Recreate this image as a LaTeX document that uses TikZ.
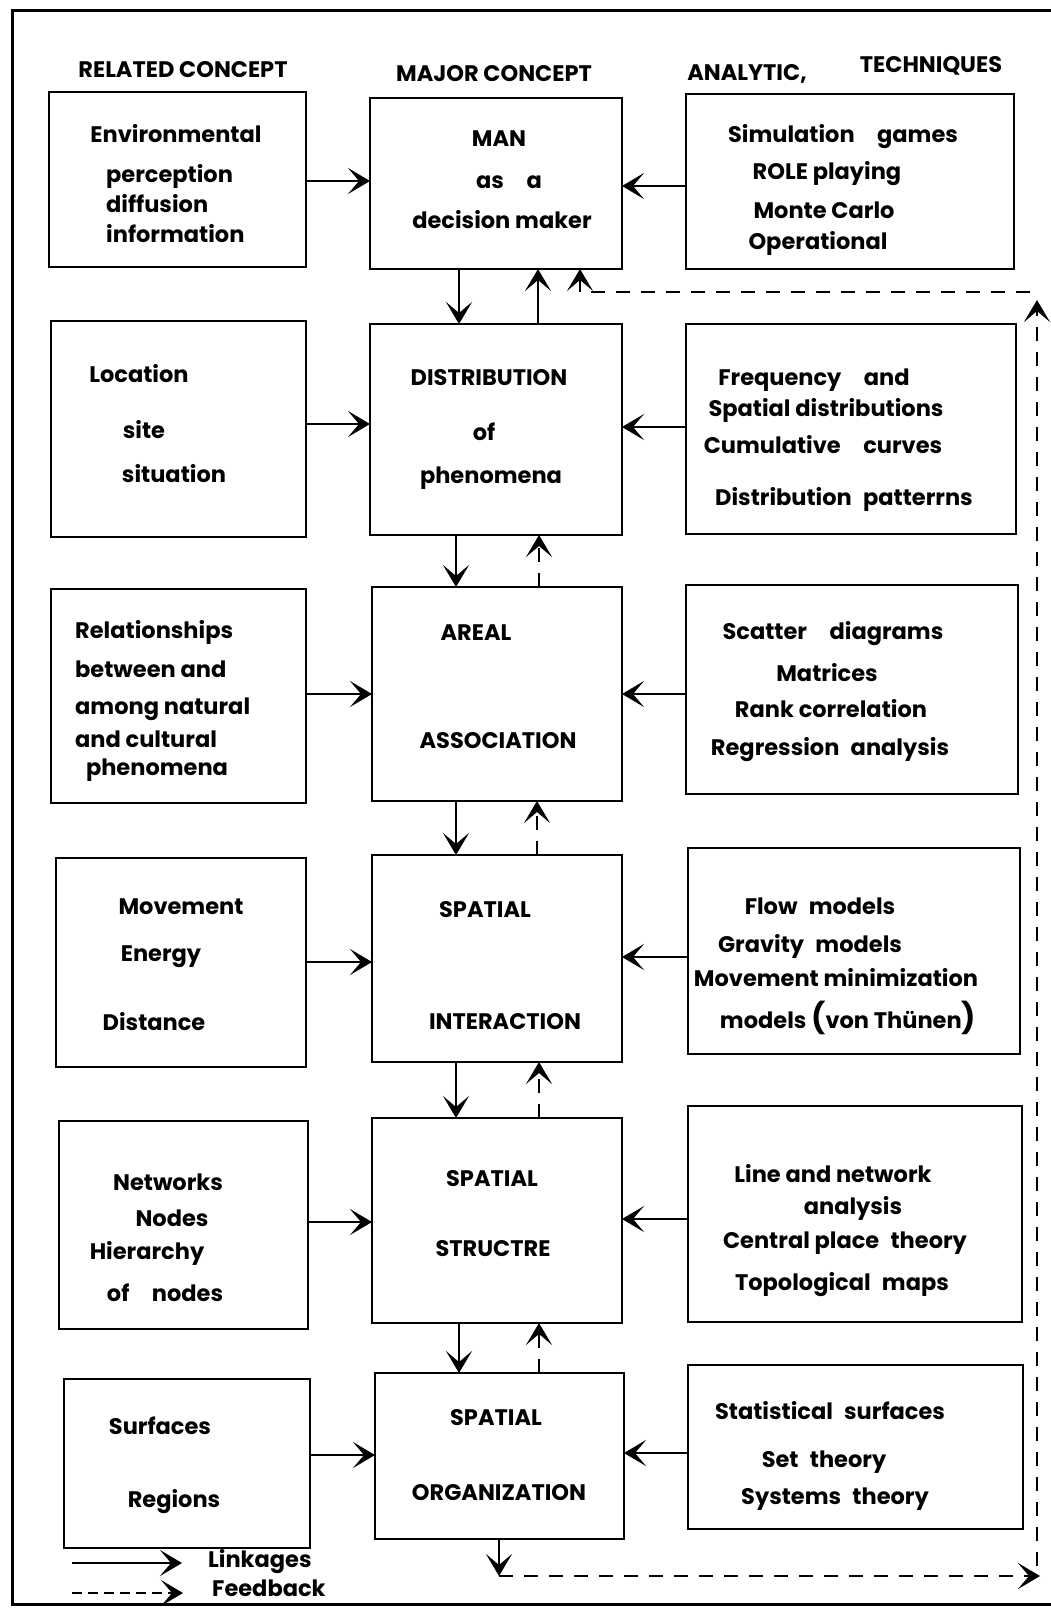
\documentclass[tikz,border=0pt]{standalone}
\usepackage{fontspec}
\setmainfont{Poppins}
\usetikzlibrary{arrows.meta}

% box given by its top-left and bottom-right corners (y grows downward)
\newcommand\cbox[5]{%
  \node[box, anchor=north west, minimum width={(#4-#2)*1pt}, minimum height={(#5-#3)*1pt}] (#1) at (#2,#3) {};}

\begin{document}
\begin{tikzpicture}[x=1pt,y=-1pt,
  box/.style={draw, line width=2.6pt, inner sep=0pt, outer sep=0pt},
  lbl/.style={font=\fontsize{22.5}{26}\selectfont\bfseries, inner sep=0pt},
  link/.style={line width=2.2pt, -{Stealth[length=22pt,width=26pt,inset=11pt]}},
  fb/.style={link, dash pattern=on 14pt off 11pt}]

\useasboundingbox (0,0) rectangle (1051,1609);
\fill[white] (0,0) rectangle (1051,1609);

% outer frame
\draw[line width=3pt] (1051,10) -- (12,10) -- (12,1604) -- (1051,1604);

% column headings
\node[lbl] (hRel) at (183,70) {RELATED CONCEPT};
\node[lbl] (hMaj) at (494,74) {MAJOR CONCEPT};
\node[lbl] (hAna) at (747,74) {ANALYTIC,};
\node[lbl] (hTec) at (931,66) {TECHNIQUES};

% boxes
\cbox{L1}{49}{92}{306}{267}
\cbox{M1}{370}{98}{622}{269}
\cbox{R1}{686}{94}{1014}{269}
\cbox{L2}{51}{321}{306}{537}
\cbox{M2}{370}{324}{622}{535}
\cbox{R2}{686}{324}{1016}{534}
\cbox{L3}{51}{589}{306}{803}
\cbox{M3}{372}{587}{622}{801}
\cbox{R3}{686}{585}{1018}{794}
\cbox{L4}{56}{858}{306}{1067}
\cbox{M4}{372}{855}{622}{1062}
\cbox{R4}{688}{848}{1020}{1054}
\cbox{L5}{59}{1121}{308}{1329}
\cbox{M5}{372}{1118}{622}{1323}
\cbox{R5}{688}{1106}{1022}{1322}
\cbox{L6}{64}{1379}{310}{1548}
\cbox{M6}{375}{1373}{624}{1539}
\cbox{R6}{688}{1365}{1023}{1529}

% row 1
\node[lbl] (t11) at (176,134) {Environmental};
\node[lbl, anchor=west] (t12) at (106,176) {perception};
\node[lbl, anchor=west] (t13) at (106,204) {diffusion};
\node[lbl, anchor=west] (t14) at (106,234) {information};
\node[lbl] (t15) at (499,139) {MAN};
\node[lbl] (t16) at (509,182) {as\quad a};
\node[lbl] (t17) at (502,220) {decision maker};
\node[lbl] (t18) at (843,137) {Simulation\quad games};
\node[lbl] (t19) at (827,174) {ROLE playing};
\node[lbl] (t1a) at (824,210) {Monte Carlo};
\node[lbl] (t1b) at (818,243) {Operational};

% row 2
\node[lbl] (t21) at (139,374) {Location};
\node[lbl] (t22) at (144,430) {site};
\node[lbl] (t23) at (174,474) {situation};
\node[lbl] (t24) at (489,378) {DISTRIBUTION};
\node[lbl] (t25) at (484,432) {of};
\node[lbl] (t26) at (491,478) {phenomena};
\node[lbl] (t27) at (814,380) {Frequency\quad and};
\node[lbl] (t28) at (826,410) {Spatial distributions};
\node[lbl] (t29) at (823,445) {Cumulative\quad curves};
\node[lbl] (t2a) at (844,499) {Distribution\enspace patterrns};

% row 3
\node[lbl, anchor=west] (t31) at (75,632) {Relationships};
\node[lbl, anchor=west] (t32) at (75,669) {between and};
\node[lbl, anchor=west] (t33) at (75,709) {among natural};
\node[lbl, anchor=west] (t34) at (75,739) {and cultural};
\node[lbl] (t35) at (157,770) {phenomena};
\node[lbl] (t36) at (476,633) {AREAL};
\node[lbl] (t37) at (498,741) {ASSOCIATION};
\node[lbl] (t38) at (833,634) {Scatter\quad diagrams};
\node[lbl] (t39) at (827,673) {Matrices};
\node[lbl] (t3a) at (831,709) {Rank correlation};
\node[lbl] (t3b) at (830,750) {Regression\enspace analysis};

% row 4
\node[lbl] (t41) at (181,907) {Movement};
\node[lbl] (t42) at (161,957) {Energy};
\node[lbl] (t43) at (154,1022) {Distance};
\node[lbl] (t44) at (485,910) {SPATIAL};
\node[lbl] (t45) at (505,1022) {INTERACTION};
\node[lbl] (t46) at (820,906) {Flow\enspace models};
\node[lbl] (t47) at (810,946) {Gravity\enspace models};
\node[lbl] (t48) at (836,978) {Movement minimization};
\node[lbl] (t49) at (848,1018) {models {\fontsize{30}{30}\selectfont(}von Thünen{\fontsize{30}{30}\selectfont)}};

% row 5
\node[lbl] (t51) at (168,1182) {Networks};
\node[lbl] (t52) at (172,1218) {Nodes};
\node[lbl] (t53) at (147,1253) {Hierarchy};
\node[lbl] (t54) at (165,1293) {of\quad nodes};
\node[lbl] (t55) at (492,1179) {SPATIAL};
\node[lbl] (t56) at (493,1249) {STRUCTRE};
\node[lbl] (t57) at (833,1174) {Line and network};
\node[lbl] (t58) at (853,1208) {analysis};
\node[lbl] (t59) at (845,1243) {Central place\enspace theory};
\node[lbl] (t5a) at (842,1285) {Topological\enspace maps};

% row 6
\node[lbl] (t61) at (160,1426) {Surfaces};
\node[lbl] (t62) at (174,1502) {Regions};
\node[lbl] (t63) at (496,1418) {SPATIAL};
\node[lbl] (t64) at (499,1493) {ORGANIZATION};
\node[lbl] (t65) at (830,1411) {Statistical\enspace surfaces};
\node[lbl] (t66) at (824,1462) {Set\enspace theory};
\node[lbl] (t67) at (835,1499) {Systems\enspace theory};

% related concept -> major concept
\draw[link] (L1.east |- 0,181) -- (M1.west |- 0,181);
\draw[link] (L2.east |- 0,424) -- (M2.west |- 0,424);
\draw[link] (L3.east |- 0,694) -- (M3.west |- 0,694);
\draw[link] (L4.east |- 0,962) -- (M4.west |- 0,962);
\draw[link] (L5.east |- 0,1222) -- (M5.west |- 0,1222);
\draw[link] (L6.east |- 0,1455) -- (M6.west |- 0,1455);

% techniques -> major concept
\draw[link] (R1.west |- 0,186) -- (M1.east |- 0,186);
\draw[link] (R2.west |- 0,427) -- (M2.east |- 0,427);
\draw[link] (R3.west |- 0,694) -- (M3.east |- 0,694);
\draw[link] (R4.west |- 0,957) -- (M4.east |- 0,957);
\draw[link] (R5.west |- 0,1219) -- (M5.east |- 0,1219);
\draw[link] (R6.west |- 0,1453) -- (M6.east |- 0,1453);

% linkages down the major concepts
\draw[link] (459,0 |- M1.south) -- (459,0 |- M2.north);
\draw[link] (456,0 |- M2.south) -- (456,0 |- M3.north);
\draw[link] (456,0 |- M3.south) -- (456,0 |- M4.north);
\draw[link] (456,0 |- M4.south) -- (456,0 |- M5.north);
\draw[link] (459,0 |- M5.south) -- (459,0 |- M6.north);

% upward links and feedback
\draw[link] (538,0 |- M2.north) -- (538,0 |- M1.south);
\draw[fb] (539,0 |- M3.north) -- (539,0 |- M2.south);
\draw[fb] (537,0 |- M4.north) -- (537,0 |- M3.south);
\draw[fb] (539,0 |- M5.north) -- (539,0 |- M4.south);
\draw[fb] (539,0 |- M6.north) -- (539,0 |- M5.south);

% feedback loop round the right side
\coordinate (fbA) at (499,1576);
\coordinate (fbB) at (1040,1576);
\coordinate (fbC) at (1037,1566);
\coordinate (fbD) at (1037,300);
\coordinate (fbE) at (1030,292);
\coordinate (fbF) at (580,292);
\draw[link] (M6.south -| fbA) -- (fbA);
\draw[fb] (fbA) -- (fbB);
\draw[fb] (fbC) -- (fbD);
\draw[fb] (fbE) -- (fbF) -- (fbF |- M1.south);

% legend
\coordinate (lgA) at (72,1563);
\coordinate (lgB) at (182,1563);
\coordinate (lgC) at (72,1593);
\coordinate (lgD) at (183,1593);
\draw[link] (lgA) -- (lgB);
\draw[fb, dash pattern=on 10pt off 6pt] (lgC) -- (lgD);
\node[lbl, anchor=west] (lgT1) at (208,1562) {Linkages};
\node[lbl, anchor=west] (lgT2) at (212,1588) {Feedback};
\end{tikzpicture}
\end{document}
